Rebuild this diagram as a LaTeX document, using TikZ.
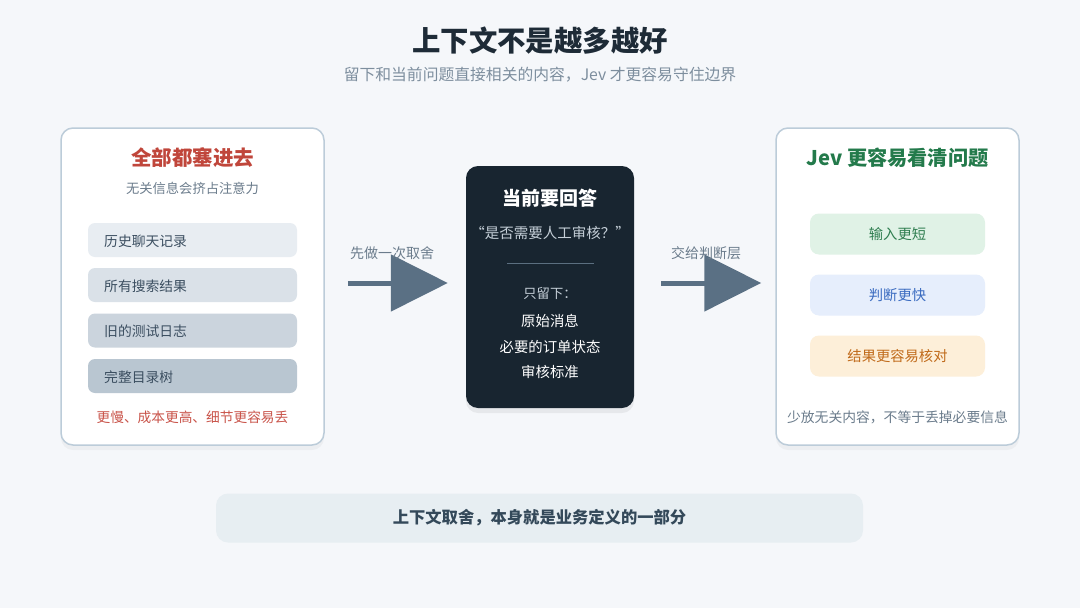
\documentclass[tikz,border=0pt]{standalone}
\usepackage{fontspec}
\setmainfont{Noto Sans CJK SC}
\usetikzlibrary{arrows.meta,shadows}
\definecolor{bg}{HTML}{F5F7FA}
\definecolor{titlec}{HTML}{1E2B37}
\definecolor{subc}{HTML}{7D8E9E}
\definecolor{cardborder}{HTML}{BCCCD9}
\definecolor{redc}{HTML}{C0463B}
\definecolor{redl}{HTML}{C9544A}
\definecolor{greyc}{HTML}{6B7C8C}
\definecolor{itemtext}{HTML}{3B4E60}
\definecolor{itemA}{HTML}{E8EDF2}
\definecolor{itemB}{HTML}{DAE1E8}
\definecolor{itemC}{HTML}{CBD4DD}
\definecolor{itemD}{HTML}{B9C6D1}
\definecolor{darkc}{HTML}{182530}
\definecolor{darkline}{HTML}{5B6F80}
\definecolor{darksub}{HTML}{C5CFD8}
\definecolor{arrowc}{HTML}{5A7084}
\definecolor{greenc}{HTML}{237A4B}
\definecolor{greenf}{HTML}{E0F2E6}
\definecolor{greent}{HTML}{2E7D4F}
\definecolor{bluef}{HTML}{E6EEFC}
\definecolor{bluet}{HTML}{3A6BC0}
\definecolor{orangef}{HTML}{FDEFD9}
\definecolor{oranget}{HTML}{C06A1A}
\definecolor{barf}{HTML}{E7EEF2}
\definecolor{bart}{HTML}{34495A}
\newcommand{\fs}[1]{\fontsize{#1}{#1}\selectfont}
\tikzset{
  card/.style={draw=cardborder, line width=1.5pt, fill=white, rounded corners=12pt,
    drop shadow={opacity=0.07, shadow xshift=0pt, shadow yshift=-5pt}},
  darkcard/.style={fill=darkc, rounded corners=12pt,
    drop shadow={opacity=0.12, shadow xshift=0pt, shadow yshift=-5pt}},
  item/.style={rounded corners=7pt, minimum width=209pt, minimum height=34pt, inner sep=0pt},
  itemlabel/.style={anchor=west, text=itemtext, font=\fs{13.8}, inner sep=0pt},
  ritem/.style={rounded corners=9pt, minimum width=175pt, minimum height=41pt, inner sep=0pt, font=\fs{14.3}},
  bigarrow/.style={draw=arrowc, line width=5pt, -{Triangle[length=57pt, width=56pt]}},
  lbl/.style={inner sep=0pt},
}
\begin{document}
\begin{tikzpicture}[x=1pt, y=-1pt]
\fill[bg] (0,0) rectangle (1080,608);
\useasboundingbox (0,0) rectangle (1080,608);

% title
\node[lbl, text=titlec, font=\fs{28.4}\bfseries] (title) at (540,41) {上下文不是越多越好};
\node[lbl, text=subc, font=\fs{15.8}] (subtitle) at (540,75) {留下和当前问题直接相关的内容，Jev 才更容易守住边界};

% left card
\node[card, minimum width=263pt, minimum height=317pt] (left) at (192.5,286.5) {};
\node[lbl, text=redc, font=\fs{20.5}\bfseries] (lt) at (192.5,158) {全部都塞进去};
\node[lbl, text=greyc, font=\fs{13.3}] (ls) at (192.5,188) {无关信息会挤占注意力};
\node[item, fill=itemA] (i1) at (192.5,240) {};
\node[item, fill=itemB] (i2) at (192.5,285) {};
\node[item, fill=itemC] (i3) at (192.5,330.5) {};
\node[item, fill=itemD] (i4) at (192.5,376) {};
\node[itemlabel] (t1) at (104,241) {历史聊天记录};
\node[itemlabel] (t2) at (104,286) {所有搜索结果};
\node[itemlabel] (t3) at (104,331.5) {旧的测试日志};
\node[itemlabel] (t4) at (104,377) {完整目录树};
\node[lbl, text=redl, font=\fs{13.7}] (lb) at (192.5,417) {更慢、成本更高、细节更容易丢};

% middle card
\node[darkcard, minimum width=168pt, minimum height=242pt] (mid) at (550,287) {};
\node[lbl, text=white, font=\fs{19}\bfseries] (mt) at (550,198) {当前要回答};
\node[lbl, text=darksub, font=\fs{14.5}] (mq) at (550,233) {“是否需要人工审核？”};
\coordinate (ml1) at (507,263);
\coordinate (ml2) at (594,263);
\draw[darkline, line width=1pt] (ml1) -- (ml2);
\node[lbl, text=darksub, font=\fs{13.3}] (mk) at (550,293) {只留下：};
\node[lbl, text=white, font=\fs{14.4}] (m1) at (550,321) {原始消息};
\node[lbl, text=white, font=\fs{14.4}] (m2) at (550,346.5) {必要的订单状态};
\node[lbl, text=white, font=\fs{14.4}] (m3) at (550,372) {审核标准};

% right card
\node[card, minimum width=243pt, minimum height=317pt] (right) at (897.5,286.5) {};
\node[lbl, text=greenc, font=\fs{20.2}\bfseries] (rt) at (897.5,158) {Jev 更容易看清问题};
\node[ritem, fill=greenf, text=greent] (r1) at (897.5,234) {输入更短};
\node[ritem, fill=bluef, text=bluet] (r2) at (897.5,295) {判断更快};
\node[ritem, fill=orangef, text=oranget] (r3) at (897.5,356) {结果更容易核对};
\node[lbl, text=greyc, font=\fs{13.8}] (rb) at (897.5,417) {少放无关内容，不等于丢掉必要信息};

% arrows
\draw[bigarrow, shorten <=23pt, shorten >=18pt] (left.east |- 0,283) -- (mid.west |- 0,283);
\draw[bigarrow, shorten <=27pt, shorten >=14pt] (mid.east |- 0,283) -- (right.west |- 0,283);
\node[lbl, text=greyc, font=\fs{14}] (al) at (392,253) {先做一次取舍};
\node[lbl, text=greyc, font=\fs{14}] (ar) at (706,253) {交给判断层};

% bottom bar
\node[fill=barf, rounded corners=12pt, minimum width=647pt, minimum height=49pt, inner sep=0pt,
  text=bart, font=\fs{16.3}\bfseries] (bar) at (539.5,518) {上下文取舍，本身就是业务定义的一部分};
\end{tikzpicture}
\end{document}
